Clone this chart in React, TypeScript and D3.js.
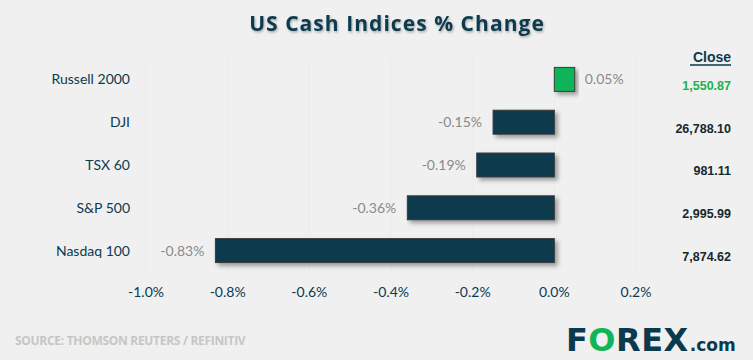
import React from "react";
import * as d3 from "d3";

const categories = ["Russell 2000", "DJI", "TSX 60", "S&P 500", "Nasdaq 100"];
const changes = [0.05, -0.15, -0.19, -0.36, -0.83];
const closes = ["1,550.87", "26,788.10", "981.11", "2,995.99", "7,874.62"];
const ticks = [-1.0, -0.8, -0.6, -0.4, -0.2, 0.0, 0.2];

const W = 753;
const H = 360;
const DARK = "#0b3a4e";
const GREEN = "#10b559";

export default function App() {
  const x = d3.scaleLinear().domain([-1.0, 0.2]).range([146, 636]);
  const y = d3
    .scaleBand<string>()
    .domain(categories)
    .range([58, 272])
    .paddingInner(0.44)
    .paddingOuter(0.22);
  const bw = y.bandwidth();

  return (
    <svg
      width={W}
      height={H}
      style={{ position: "absolute", left: 0, top: 0, background: "#f0f0f0" }}
    >
      <defs>
        <filter id="shadow" x="-10%" y="-30%" width="130%" height="180%">
          <feDropShadow dx="3" dy="3" stdDeviation="2" floodColor="#000" floodOpacity="0.35" />
        </filter>
        <filter id="tshadow" x="-5%" y="-30%" width="110%" height="180%">
          <feDropShadow dx="1" dy="1.5" stdDeviation="1.2" floodColor="#000" floodOpacity="0.3" />
        </filter>
      </defs>
      <rect x={0} y={0} width={W} height={H} fill="#f0f0f0" />

      <text
        x={397}
        y={31}
        textAnchor="middle"
        fontFamily="'Open Sans', sans-serif"
        fontWeight={700}
        fontSize={21}
        letterSpacing={1.05}
        fill={DARK}
        filter="url(#tshadow)"
      >
        US Cash Indices % Change
      </text>

      {ticks.map((t) => (
        <line
          key={"g" + t}
          x1={x(t)}
          x2={x(t)}
          y1={58}
          y2={272}
          stroke="#ebebeb"
          strokeWidth={1}
        />
      ))}

      {categories.map((c, i) => {
        const v = changes[i];
        const x0 = x(Math.min(0, v));
        const x1 = x(Math.max(0, v));
        const yy = y(c)!;
        const cy = yy + bw / 2;
        return (
          <g key={c}>
            <text
              x={130}
              y={cy}
              dy="0.35em"
              textAnchor="end"
              fontFamily="Lato, sans-serif"
              fontSize={14}
              fill={DARK}
            >
              {c}
            </text>
            <rect
              x={x0}
              y={yy}
              width={x1 - x0}
              height={bw}
              fill={v >= 0 ? GREEN : DARK}
              stroke="#3a3a3a"
              strokeWidth={1}
              filter="url(#shadow)"
            />
            <text
              x={v >= 0 ? x1 + 10 : x0 - 11}
              y={cy}
              dy="0.35em"
              textAnchor={v >= 0 ? "start" : "end"}
              fontFamily="Lato, sans-serif"
              fontSize={14}
              fill="#8a8a8a"
            >
              {v.toFixed(2) + "%"}
            </text>
            <text
              x={731}
              y={cy + 6}
              dy="0.35em"
              textAnchor="end"
              fontFamily="'Liberation Sans', Arial, sans-serif"
              fontWeight={700}
              fontSize={12.5}
              fill={v >= 0 ? "#22b04b" : "#17272f"}
            >
              {closes[i]}
            </text>
          </g>
        );
      })}

      <text
        x={731}
        y={62}
        textAnchor="end"
        fontFamily="'Liberation Sans', Arial, sans-serif"
        fontWeight={700}
        fontSize={14}
        fill={DARK}
      >
        Close
      </text>
      <line x1={690} x2={731} y1={65} y2={65} stroke={DARK} strokeWidth={1.5} />

      {ticks.map((t) => (
        <text
          key={"t" + t}
          x={x(t)}
          y={292}
          dy="0.35em"
          textAnchor="middle"
          fontFamily="Lato, sans-serif"
          fontSize={14}
          fill={DARK}
        >
          {t.toFixed(1) + "%"}
        </text>
      ))}

      <text
        x={15}
        y={345}
        fontFamily="'Open Sans', sans-serif"
        fontWeight={700}
        fontSize={12}
        fill="#c6c6c6"
        letterSpacing={-0.3}
      >
        SOURCE: THOMSON REUTERS / REFINITIV
      </text>

      <text
        x={566}
        y={351}
        fontFamily="'DejaVu Sans', sans-serif"
        fontWeight={700}
        fontSize={32}
        fill={DARK}
        letterSpacing={0.5}
      >
        F<tspan fill={GREEN}>O</tspan>REX
        <tspan fontSize={17} dx={1} letterSpacing={0}>.com</tspan>
      </text>
    </svg>
  );
}
